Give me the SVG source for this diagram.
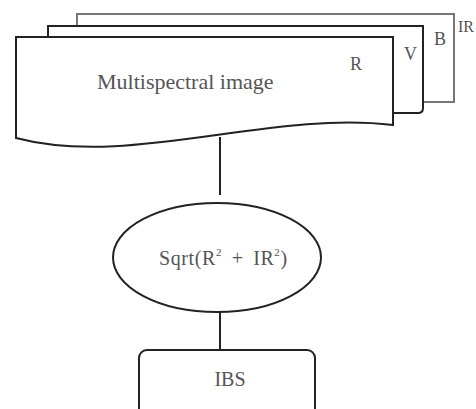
<svg xmlns="http://www.w3.org/2000/svg" width="476" height="409" viewBox="0 0 476 409">
<style>
.s{fill:#fff;stroke:#222;stroke-width:2}
.t{font-family:"Liberation Serif",serif;fill:#555}
.c{stroke:#222;stroke-width:2;fill:none}
</style>
<rect width="476" height="409" fill="#fff"/>
<g id="layer-b">
<rect x="77" y="14" width="377" height="88" fill="#fff" stroke="#777" stroke-width="2"/>
<text class="t" x="434" y="45" font-size="18">B</text>
<text class="t" x="458" y="32" font-size="16">IR</text>
</g>
<g id="layer-v">
<path class="s" d="M48,26 H423 V108 Q423,113 418,113 H393 V40 H48 Z"/>
<text class="t" x="404" y="60" font-size="18">V</text>
</g>
<g id="multispectral">
<path class="s" d="M16,37 H393 V125 C270,110 130,168 16,138 Z"/>
<text class="t" x="97" y="89" font-size="22">Multispectral image</text>
<text class="t" x="350" y="70" font-size="18">R</text>
</g>
<g id="connectors">
<line class="c" x1="220" y1="137" x2="220" y2="195"/>
<line class="c" x1="220" y1="312" x2="220" y2="350"/>
</g>
<g id="sqrt">
<ellipse class="s" cx="217" cy="257.5" rx="104" ry="54.5"/>
<text class="t" x="159" y="265" font-size="20" letter-spacing="0.6" word-spacing="4">Sqrt(R<tspan font-size="11" dy="-9">2</tspan><tspan dy="9"> + IR</tspan><tspan font-size="11" dy="-9">2</tspan><tspan dy="9">)</tspan></text>
</g>
<g id="ibs">
<rect class="s" x="139" y="350" width="176" height="80" rx="8"/>
<text class="t" x="230" y="386" font-size="20" text-anchor="middle">IBS</text>
</g>
</svg>
